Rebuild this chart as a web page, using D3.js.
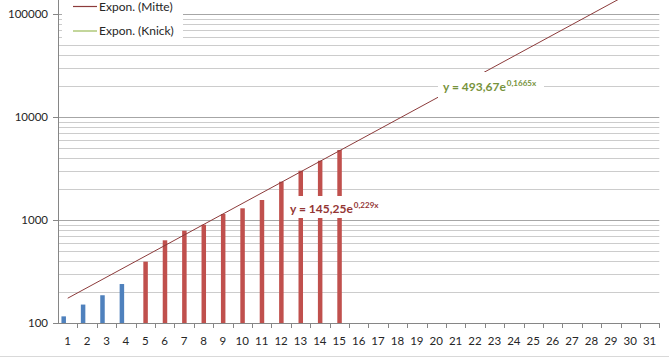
<!DOCTYPE html>
<html>
<head>
<meta charset="utf-8">
<script src="https://cdn.jsdelivr.net/npm/d3@7"></script>
<style>
  body { margin: 0; background: #fff; }
  svg { display: block; font-family: Lato, "Open Sans", sans-serif; }
</style>
</head>
<body>
<div id="chart"></div>
<script>
// categories on the x axis (1..31)
var days = [1,2,3,4,5,6,7,8,9,10,11,12,13,14,15,16,17,18,19,20,21,22,23,24,25,26,27,28,29,30,31]

// blue bars (days 1-4) and red bars (days 5-15)
var blueDays = [1, 2, 3, 4]
var blueValues = [116, 151, 186, 239]
var redDays = [5, 6, 7, 8, 9, 10, 11, 12, 13, 14, 15]
var redValues = [394, 635, 787, 900, 1143, 1299, 1564, 2354, 3010, 3764, 4783]

// trendline "Mitte" endpoints (straight on the log axis)
var mitteTrend = [[1, 174], [30, 160000]]

var yTicks = [100, 1000, 10000, 100000]
var legendNames = ["Expon. (Mitte)", "Expon. (Knick)"]
var mitteLabel = ["y = 145,25e", "0,229x"]
var knickLabel = ["y = 493,67e", "0,1665x"]

var width = 669, height = 359

var svg = d3.select("#chart").append("svg")
  .attr("width", width)
  .attr("height", height)

var x = d3.scaleBand()
  .domain(days)
  .range([58, 659.3])
  .padding(0)

var y = d3.scaleLog()
  .domain([100, 136800])
  .range([323, 0])

var red = "#c0504d", blue = "#4f81bd"
var mitteColor = "#8c3b3b", knickColor = "#9bbb59"

// gridlines: major at decades, minor at 2..9
var grid = []
yTicks.forEach(d => {
  for (var k = 1; k <= 9; k++) {
    if (k * d <= 100000 && k * d > 100) grid.push({v: k * d, major: k === 1})
  }
})

svg.append("g")
  .selectAll("line")
  .data(grid)
  .join("line")
    .attr("x1", 58)
    .attr("x2", 659.3)
    .attr("y1", d => Math.round(y(d.v)) + 0.5)
    .attr("y2", d => Math.round(y(d.v)) + 0.5)
    .attr("stroke", d => d.major ? "#a6a6a6" : "#cccccc")
    .attr("stroke-width", 1)

// bottom separator
svg.append("line")
  .attr("x1", 0).attr("x2", width)
  .attr("y1", 356.5).attr("y2", 356.5)
  .attr("stroke", "#d9d9d9")

// bars
var barW = 4.5
svg.append("g")
  .selectAll("rect")
  .data(blueDays.map((d, i) => [d, blueValues[i]]))
  .join("rect")
    .attr("x", d => x(d[0]) + x.bandwidth() / 2 - 4 - barW / 2)
    .attr("width", barW)
    .attr("y", d => y(d[1]))
    .attr("height", d => y(100) - y(d[1]))
    .attr("fill", blue)

svg.append("g")
  .selectAll("rect")
  .data(redDays.map((d, i) => [d, redValues[i]]))
  .join("rect")
    .attr("x", d => x(d[0]) + x.bandwidth() / 2 - barW / 2 + 0.3)
    .attr("width", barW)
    .attr("y", d => y(d[1]))
    .attr("height", d => y(100) - y(d[1]))
    .attr("fill", red)

// trendline, clipped to the plot
svg.append("clipPath").attr("id", "plotClip")
  .append("rect").attr("x", 58).attr("y", 0).attr("width", 602).attr("height", 323)

var line = d3.line()
  .x(d => x(d[0]) + x.bandwidth() / 2)
  .y(d => y(d[1]))

svg.append("path")
  .datum(mitteTrend)
  .attr("clip-path", "url(#plotClip)")
  .attr("fill", "none")
  .attr("stroke", mitteColor)
  .attr("stroke-width", 1)
  .attr("d", line)

// axes
var axisColor = "#868686"
svg.append("line")
  .attr("x1", 58.5).attr("x2", 58.5)
  .attr("y1", 0).attr("y2", 323)
  .attr("stroke", axisColor)

svg.append("line")
  .attr("x1", 58).attr("x2", 659.3)
  .attr("y1", 323.5).attr("y2", 323.5)
  .attr("stroke", axisColor)

// y ticks + labels
svg.append("g")
  .selectAll("g")
  .data(yTicks)
  .join("g")
    .call(g => g.append("line")
      .attr("x1", 53).attr("x2", 58)
      .attr("y1", d => Math.round(y(d)) + 0.5)
      .attr("y2", d => Math.round(y(d)) + 0.5)
      .attr("stroke", axisColor))
    .call(g => g.append("text")
      .attr("x", 48)
      .attr("y", d => y(d))
      .attr("dy", "0.35em")
      .attr("text-anchor", "end")
      .attr("font-size", 11.5)
      .attr("fill", "#262626")
      .text(d => d))

// x ticks at category boundaries
svg.append("g")
  .selectAll("line")
  .data(days)
  .join("line")
    .attr("x1", d => Math.round(x(d) + x.bandwidth()) + 0.5)
    .attr("x2", d => Math.round(x(d) + x.bandwidth()) + 0.5)
    .attr("y1", 323)
    .attr("y2", 328)
    .attr("stroke", axisColor)

svg.append("g")
  .selectAll("text")
  .data(days)
  .join("text")
    .attr("x", d => x(d) + x.bandwidth() / 2)
    .attr("y", 345)
    .attr("text-anchor", "middle")
    .attr("font-size", 11.5)
    .attr("fill", "#262626")
    .text(d => d)

// legend
svg.append("rect")
  .attr("x", 62).attr("y", 0).attr("width", 121).attr("height", 42)
  .attr("fill", "#fff")

var legend = svg.append("g")
  .selectAll("g")
  .data(legendNames)
  .join("g")
    .attr("transform", (d, i) => `translate(73, ${6.5 + i * 24.5})`)

legend.append("line")
  .attr("x1", 0).attr("x2", 24)
  .attr("stroke", (d, i) => i === 0 ? mitteColor : knickColor)
  .attr("stroke-width", 1.2)

legend.append("text")
  .attr("x", 26)
  .attr("dy", "0.35em")
  .attr("font-size", 12)
  .attr("fill", "#262626")
  .text(d => d)

// equation labels with white boxes
function eqLabel(lx, ly, box, parts, color) {
  svg.append("rect")
    .attr("x", box[0]).attr("y", box[1]).attr("width", box[2]).attr("height", box[3])
    .attr("fill", "#fff")
  var t = svg.append("text")
    .attr("x", lx).attr("y", ly)
    .attr("fill", color)
    .attr("font-weight", "bold")
    .attr("font-size", 12)
  t.append("tspan").text(parts[0])
  t.append("tspan")
    .attr("dy", -5)
    .attr("dx", 1)
    .attr("font-size", 8)
    .text(parts[1])
}

eqLabel(290, 213, [287, 196, 97, 22], mitteLabel, "#943634")
eqLabel(443, 91, [438, 72, 106, 26], knickLabel, "#77933c")
</script>
</body>
</html>
